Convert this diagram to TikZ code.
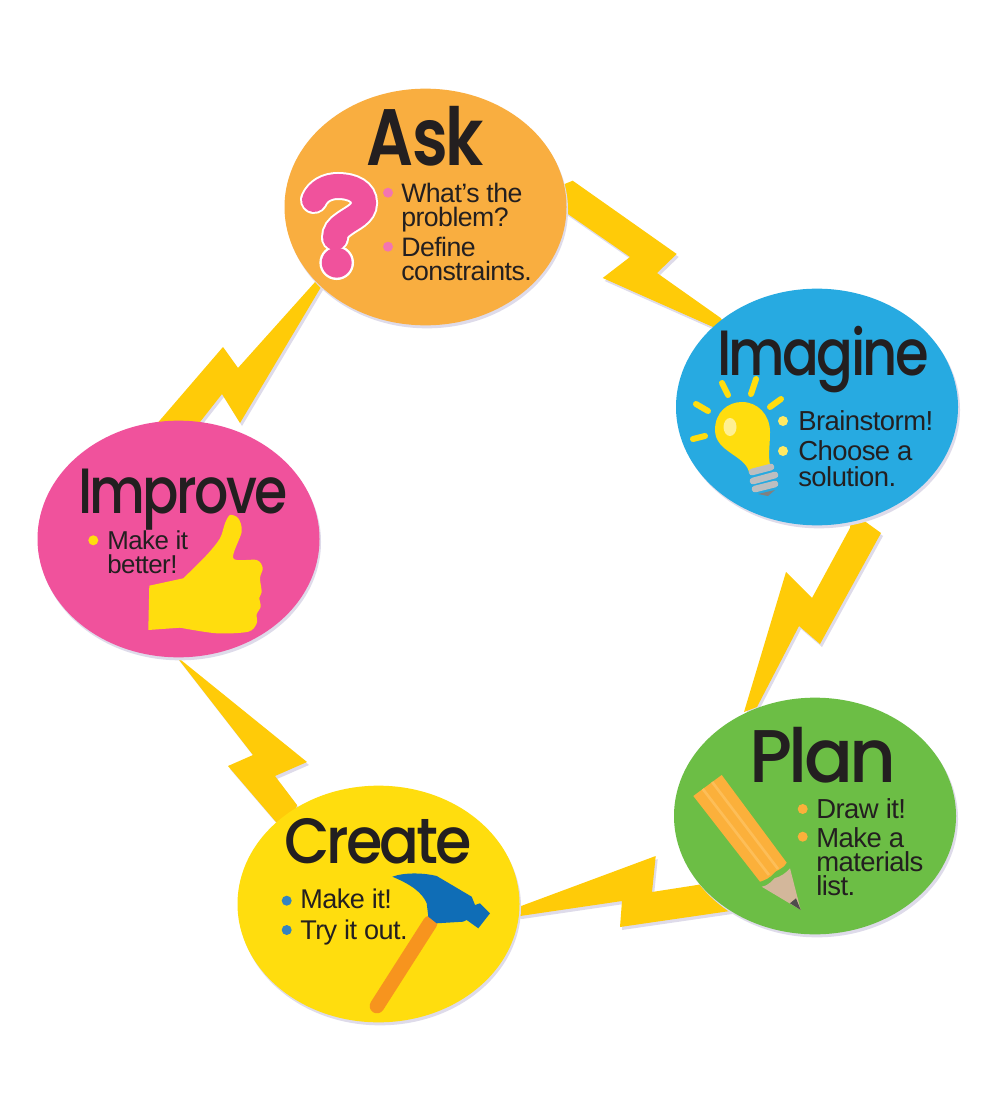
\documentclass[tikz,border=0pt]{standalone}
\usepackage{fontspec}
\usepackage{graphicx}
\usetikzlibrary{shapes.geometric}
\setmainfont{Liberation Sans}
\newfontfamily\bodyfont[LetterSpace=-2]{Liberation Sans}
\newfontfamily\headfont[LetterSpace=-5]{Poppins Medium}
\newfontfamily\askfont[LetterSpace=-3]{Poppins SemiBold}
\definecolor{boltc}{HTML}{FFCB08}
\definecolor{shadec}{HTML}{DEDBEA}
\definecolor{askc}{HTML}{F9AE40}
\definecolor{imgc}{HTML}{27AAE1}
\definecolor{planc}{HTML}{6CBE45}
\definecolor{createc}{HTML}{FFDD0E}
\definecolor{impc}{HTML}{F0529C}
\definecolor{ink}{HTML}{231F20}
\definecolor{pencilc}{HTML}{FBB03B}
\definecolor{pencilh}{HTML}{FDBE58}
\definecolor{woodc}{HTML}{D3B79B}
\definecolor{hamblue}{HTML}{0F6DB6}
\definecolor{hamorange}{HTML}{F7941E}
\definecolor{grayb}{HTML}{BCBEC0}
\newcommand{\boltA}{(572.7,180.7) -- (676.7,254) -- (657,273) -- (720.7,318) -- (735,340) -- (713,327) -- (602.7,278) -- (630,257) -- (565,212) -- (550,190) -- cycle}
\newcommand{\boltB}{(863,520) -- (881,533) -- (820,644) -- (799,626) -- (757,707) -- (744,712) -- (786,572) -- (812,598) -- (850,528) -- (852,510) -- cycle}
\newcommand{\boltC}{(655.7,856) -- (652,892) -- (697,885) -- (745,875) -- (730,911) -- (620,927) -- (622,901) -- (520,916) -- (505,912) -- cycle}
\newcommand{\boltD}{(176,656) -- (307,762) -- (275,776) -- (297,805) -- (290,830) -- (276,822) -- (228,766) -- (253,755) -- cycle}
\newcommand{\boltE}{(316,281) -- (326,276) -- (321,287) -- (240,423) -- (222,394) -- (200,422) -- (190,440) -- (155,426) -- (223,347) -- (238,368) -- cycle}
\newcommand{\qmark}{(314,200) .. controls (318,191) and (327,186) .. (338,186) .. controls (353,186) and (364,192) .. (364,203) .. controls (364,214) and (352,218) .. (344,224) .. controls (338,228) and (335,232) .. (335,238)}
\tikzset{
  x=0.75pt, y=-0.75pt,
  blob/.style={ellipse, inner sep=0pt, minimum width=211.5pt, minimum height=177.5pt},
  blobshade/.style={blob, fill=shadec},
  title/.style={anchor=base west, inner sep=0pt, text=ink, font=\headfont},
  bodytext/.style={anchor=north west, inner sep=0pt, align=left, text=ink},
  bullet/.style={circle, inner sep=0pt, minimum size=7.5pt},
  ray/.style={draw=createc, line width=4.5pt, line cap=round},
  screw/.style={draw=grayb, line width=5pt, line cap=round},
}
\begin{document}
\begin{tikzpicture}
\path[use as bounding box, fill=white] (0,0) rectangle (1000,1112);
% bolts
\begin{scope}[shift={(2,3)}]
\fill[shadec] \boltA; \fill[shadec] \boltB; \fill[shadec] \boltC; \fill[shadec] \boltD; \fill[shadec] \boltE;
\end{scope}
\fill[boltc] \boltA; \fill[boltc] \boltB; \fill[boltc] \boltC; \fill[boltc] \boltD; \fill[boltc] \boltE;
% ellipse shadows
\node[blobshade] at (427,210) {};
\node[blobshade] at (819,410) {};
\node[blobshade] at (817,819) {};
\node[blobshade] at (380,907) {};
\node[blobshade] at (180,542) {};
% ellipses
\node[blob, fill=askc] (ask) at (425.5,207) {};
\node[blob, fill=imgc] (imagine) at (817,407) {};
\node[blob, fill=planc] (plan) at (815,816) {};
\node[blob, fill=createc] (create) at (378.5,904) {};
\node[blob, fill=impc] (improve) at (178.5,539) {};
% titles
\node[title, font=\askfont] (askT) at (366.7,166) {\fontsize{60}{60}\selectfont\scalebox{0.82}[1]{Ask}};
\node[title] (imagineT) at (717,375) {\fontsize{48}{48}\selectfont\scalebox{0.85}[1]{Imagine}};
\node[title] (planT) at (749,782.7) {\fontsize{56}{56}\selectfont\scalebox{0.97}[1]{Plan}};
\node[title] (createT) at (284,863) {\fontsize{48}{48}\selectfont\scalebox{0.92}[1]{Create}};
\node[title] (improveT) at (78,513) {\fontsize{48}{48}\selectfont\scalebox{0.84}[1]{Improve}};
% Ask body
\node[bullet, fill=impc!80!white] (b1) at (388,192.7) {};
\node[bullet, fill=impc!80!white] (b2) at (388,246.7) {};
\node[bodytext, font=\bodyfont\fontsize{20}{18}\selectfont] (t1) at (401,183) {What’s the\\problem?};
\node[bodytext, font=\bodyfont\fontsize{20}{18}\selectfont] (t2) at (401,237) {Define\\constraints.};
% question mark
\draw[white, line width=21pt, line cap=round] \qmark;
\fill[white] (336.7,262.7) circle (13pt);
\draw[impc, line width=18pt, line cap=round] \qmark;
\fill[impc] (336.7,262.7) circle (11.2pt);
% Imagine body
\fill[createc] (749,472) .. controls (745,455) and (715,452) .. (715,430) .. controls (715,412) and (728,402) .. (742,402) .. controls (758,402) and (770,415) .. (770,432) .. controls (770,445) and (768,455) .. (770,465) -- cycle;
\fill[createc!45!white] (730,427) ellipse [x radius=6.5, y radius=9];
\draw[screw] (752,472) -- (771,467);
\draw[screw] (753,481) -- (775,475);
\draw[screw] (755,489) -- (775,484);
\fill[gray] (758,494) -- (775,490) -- (768,496) -- cycle;
\draw[ray] (696,404) -- (708,411);
\draw[ray] (722,383) -- (728,395);
\draw[ray] (756,379) -- (751,394);
\draw[ray] (781,399) -- (770,407);
\draw[ray] (693,439) -- (705,436);
\node[bullet, fill=createc!65!white] (b3) at (783,421) {};
\node[bullet, fill=createc!65!white] (b4) at (783,451) {};
\node[bodytext, font=\bodyfont\fontsize{20.6}{19.5}\selectfont] (t3) at (798,410) {Brainstorm!};
\node[bodytext, font=\bodyfont\fontsize{20.6}{19.5}\selectfont] (t4) at (798,440) {Choose a\\solution.};
% Plan body
\fill[woodc] (761.7,886.7) .. controls (770,885) and (772,880) .. (775,878) .. controls (780,877) and (786,873) .. (790,868.3) -- (800.7,910) -- cycle;
\fill[ink!80!white] (790,903.3) -- (796,898.3) -- (800.7,910) -- cycle;
\fill[pencilc] (693.3,796) -- (721.7,775) -- (786.7,862.7) .. controls (782,870) and (776,870) .. (774,873) .. controls (770,878) and (765,880) .. (760,881.7) -- cycle;
\draw[pencilh, line width=2pt] (702.8,789) -- (769,875);
\draw[pencilh, line width=2pt] (712.2,782) -- (778,869);
\node[bullet, fill=pencilc] (b5) at (802.7,809) {};
\node[bullet, fill=pencilc] (b6) at (802.7,836.7) {};
\node[bodytext, font=\bodyfont\fontsize{20.6}{18}\selectfont] (t5) at (816,798.5) {Draw it!};
\node[bodytext, font=\bodyfont\fontsize{20.6}{18}\selectfont] (t6) at (816,827.5) {Make a\\materials\\list.};
% Create body
\draw[hamorange, line width=11pt, line cap=round] (430,923) -- (377,1006);
\fill[hamblue] (392.3,876.7) .. controls (405,872) and (425,873) .. (436.7,876) -- (471.7,896.7) -- (475,905) -- (480,903.3) -- (490,913.3) -- (478.3,928.3) -- (466.7,920) -- (463,921.7) -- (436.7,923.3) -- (428.3,916.7) -- (426.7,903.3) .. controls (422,892) and (410,884) .. (392.3,876.7) -- cycle;
\node[bullet, fill=hamblue!85!white] (b7) at (286.7,900.7) {};
\node[bullet, fill=hamblue!85!white] (b8) at (286.7,930) {};
\node[bodytext, font=\bodyfont\fontsize{20.3}{20}\selectfont] (t7) at (300,888.5) {Make it!};
\node[bodytext, font=\bodyfont\fontsize{20.3}{20}\selectfont] (t8) at (300,919.5) {Try it out.};
% Improve body
\fill[createc] (149.3,585.7) -- (148.3,630) -- plot[smooth, tension=.5] coordinates {(180,627.7) (216.7,633.3) (248.3,631.7) (256.7,623.3) (256.7,614.3) (260.7,606.7) (259.3,597.7) (261.7,592) (260,578) (262.7,568) (256.7,560) (233.3,558.3) (241.7,531.7) (238.3,518.3) (230,515) (225,523.3) (220,538.3) (206.7,555) (183.3,578.3)} -- cycle;
\node[bullet, fill=createc] (b9) at (93.3,540.3) {};
\node[bodytext, font=\bodyfont\fontsize{19.4}{18.5}\selectfont] (t9) at (107,530) {Make it\\better!};
\end{tikzpicture}
\end{document}
